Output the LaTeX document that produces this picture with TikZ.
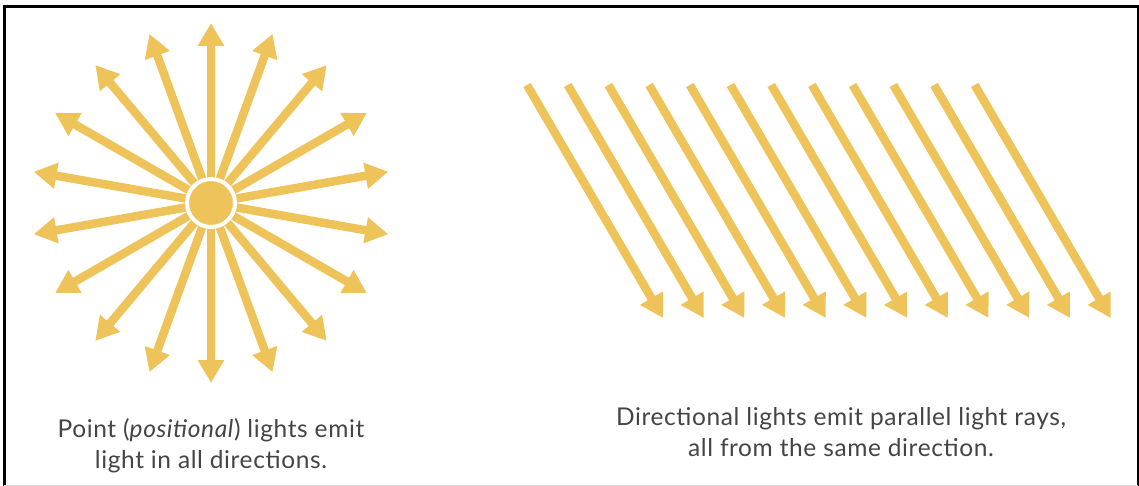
\documentclass[tikz,border=0pt]{standalone}
\usepackage{fontspec}
\setmainfont[LetterSpace=2.5]{Lato}
\usetikzlibrary{arrows.meta}
\definecolor{sunyellow}{RGB}{238,196,90}
\definecolor{txtgray}{RGB}{68,68,68}
\begin{document}
\begin{tikzpicture}[x=1pt,y=-1pt,
  ray/.style={draw=sunyellow, line width=8.5pt, -{Triangle[length=23pt,width=25pt]}},
  caption/.style={font=\fontsize{24.5}{31}\selectfont, text=txtgray, align=center}]
\useasboundingbox (0,0) rectangle (1139,486);
% frame
\draw[line width=3pt] (4.2,486) -- (4.2,6.2) -- (1138,6.2);
\draw[line width=1.5pt] (1138,5) -- (1138,486);
\draw[line width=0.6pt, black!12] (4,485.5) -- (1138,485.5);
% point light
\coordinate (sunc) at (211,203);
\foreach \i in {0,...,17}{
  \coordinate (t\i) at ({211+180*cos(90+20*\i)},{203-180*sin(90+20*\i)});
  \draw[ray] (sunc) -- (t\i);
}
\node[circle, fill=sunyellow, draw=white, line width=4pt, minimum size=48pt, inner sep=0pt] (sun) at (sunc) {};
% directional light
\foreach \i in {0,...,11}{
  \coordinate (s\i) at ({527+40.7*\i},85);
  \coordinate (e\i) at ({663+40.7*\i},318);
  \draw[ray] (s\i) -- (e\i);
}
% captions
\node[caption] (lt) at (211,446) {Point (\textit{positional}) lights emit\\light in all directions.};
\node[caption] (rt) at (841,432) {Directional lights emit parallel light rays,\\all from the same direction.};
\end{tikzpicture}
\end{document}
